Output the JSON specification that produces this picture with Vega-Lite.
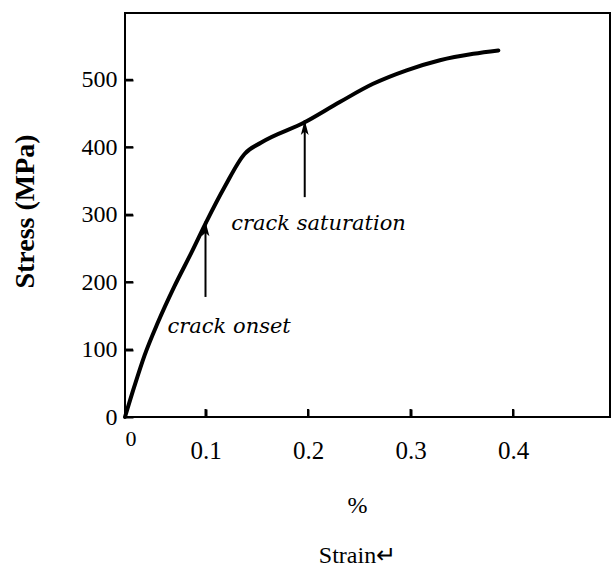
{
  "$schema": "https://vega.github.io/schema/vega-lite/v6.json",
  "width": 485,
  "height": 404,
  "autosize": "none",
  "padding": {"left": 125, "top": 13, "right": 2, "bottom": 151},
  "background": "white",
  "config": {
    "view": {"stroke": "black", "strokeWidth": 2}
  },
  "datasets": {
    "curve": [
      {"strain": 0, "stress": 0},
      {"strain": 0.0118, "stress": 46},
      {"strain": 0.0242, "stress": 91},
      {"strain": 0.0408, "stress": 140},
      {"strain": 0.0615, "stress": 194},
      {"strain": 0.0822, "stress": 243},
      {"strain": 0.1007, "stress": 289},
      {"strain": 0.1186, "stress": 341},
      {"strain": 0.1381, "stress": 390},
      {"strain": 0.1544, "stress": 407},
      {"strain": 0.1968, "stress": 437},
      {"strain": 0.231, "stress": 467},
      {"strain": 0.2635, "stress": 494},
      {"strain": 0.2962, "stress": 514},
      {"strain": 0.3287, "stress": 529},
      {"strain": 0.3613, "stress": 538.5},
      {"strain": 0.3857, "stress": 543.5}
    ],
    "arrows": [
      {"name": "onset", "strain": 0.1, "stressFrom": 178, "stressTo": 290},
      {"name": "saturation", "strain": 0.1968, "stressFrom": 326, "stressTo": 440}
    ],
    "labels": [
      {"text": "crack onset", "strain": 0.0528, "stress": 124},
      {"text": "crack saturation", "strain": 0.1251, "stress": 277}
    ],
    "xticks": [
      {"strain": 0.1}, {"strain": 0.2}, {"strain": 0.3}, {"strain": 0.4}
    ],
    "yticks": [
      {"stress": 100}, {"stress": 200}, {"stress": 300}, {"stress": 400}, {"stress": 500}
    ]
  },
  "layer": [
    {
      "data": {"name": "curve"},
      "mark": {"type": "line", "color": "black", "strokeWidth": 4, "interpolate": "monotone", "strokeCap": "round"},
      "encoding": {
        "x": {
          "field": "strain",
          "type": "quantitative",
          "scale": {"domain": [0, 0.1, 0.4946], "range": [0, 80.5, 485], "nice": false, "zero": false},
          "axis": {
            "gridOpacity": 0,
            "domain": false,
            "zindex": 1,
            "offset": -8,
            "tickSize": 8,
            "tickColor": "black",
            "tickWidth": 2,
            "tickCount": 5,
            "labelExpr": "datum.value == 0 ? '0' : format(datum.value, '.1f')",
            "labelColor": "black",
            "labelFont": "Liberation Serif",
            "labelPadding": {"condition": {"test": "datum.value == 0", "value": 11}, "value": 21},
            "labelFontSize": {"condition": {"test": "datum.value == 0", "value": 22}, "value": 25},
            "labelBaseline": "top",
            "title": ["%", "Strain↵"],
            "titleColor": "black",
            "titleFont": "Liberation Serif",
            "titleFontSize": 24,
            "titleFontWeight": "normal",
            "titleLineHeight": 50,
            "titleX": 232,
            "titleY": 84,
            "titleBaseline": "top"
          }
        },
        "y": {
          "field": "stress",
          "type": "quantitative",
          "scale": {"domain": [0, 599], "nice": false},
          "axis": {
            "gridOpacity": 0,
            "domain": false,
            "zindex": 1,
            "offset": -8,
            "tickSize": 8,
            "tickColor": "black",
            "tickWidth": 2,
            "tickCount": 6,
            "labelColor": "black",
            "labelFont": "Liberation Serif",
            "labelFontSize": 24,
            "labelPadding": 8,
            "title": "Stress (MPa)",
            "titleColor": "black",
            "titleFont": "Liberation Serif",
            "titleFontSize": 28,
            "titleFontWeight": "bold",
            "titleX": -108,
            "titleY": 198,
            "titleAlign": "center",
            "titleBaseline": "middle"
          }
        }
      }
    },
    {
      "data": {"name": "xticks"},
      "mark": {"type": "tick", "orient": "vertical", "size": 8, "thickness": 2, "color": "black", "opacity": 1, "yOffset": -4},
      "encoding": {
        "x": {"field": "strain", "type": "quantitative"},
        "y": {"datum": 0, "type": "quantitative"}
      }
    },
    {
      "data": {"name": "yticks"},
      "mark": {"type": "tick", "orient": "horizontal", "size": 8, "thickness": 2, "color": "black", "opacity": 1, "xOffset": 4},
      "encoding": {
        "x": {"datum": 0, "type": "quantitative"},
        "y": {"field": "stress", "type": "quantitative"}
      }
    },
    {
      "data": {"name": "arrows"},
      "mark": {"type": "rule", "color": "black", "strokeWidth": 2},
      "encoding": {
        "x": {"field": "strain", "type": "quantitative"},
        "y": {"field": "stressFrom", "type": "quantitative"},
        "y2": {"field": "stressTo"}
      }
    },
    {
      "data": {"name": "arrows"},
      "mark": {"type": "point", "shape": "M0,0L0.45,1.7L0,1.3L-0.45,1.7Z", "size": 300, "filled": true, "color": "black", "opacity": 1, "strokeWidth": 0},
      "encoding": {
        "x": {"field": "strain", "type": "quantitative"},
        "y": {"field": "stressTo", "type": "quantitative"}
      }
    },
    {
      "data": {"name": "labels"},
      "mark": {"type": "text", "font": "DejaVu Serif", "fontStyle": "italic", "fontSize": 21, "align": "left", "baseline": "alphabetic", "color": "black"},
      "encoding": {
        "x": {"field": "strain", "type": "quantitative"},
        "y": {"field": "stress", "type": "quantitative"},
        "text": {"field": "text"}
      }
    }
  ]
}
